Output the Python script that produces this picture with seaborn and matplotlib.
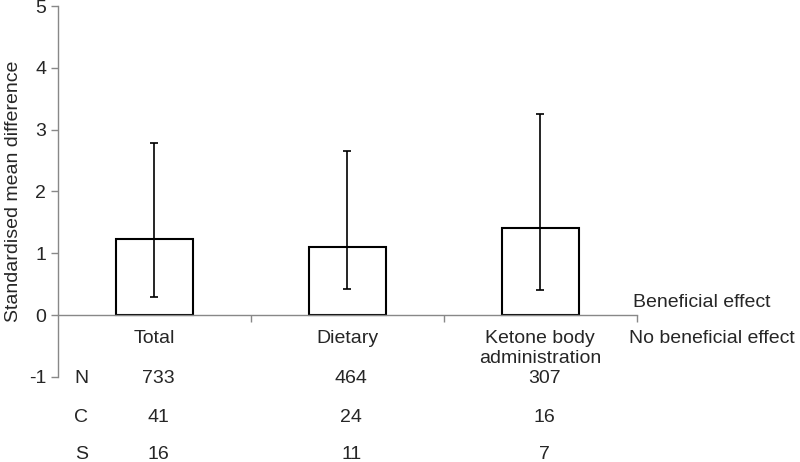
import matplotlib
matplotlib.use("Agg")
import matplotlib.pyplot as plt
import seaborn as sns
import pandas as pd

categories = ["Total", "Dietary", "Ketone body\nadministration"]
smd = [1.23, 1.11, 1.41]
ci_low = [0.30, 0.42, 0.40]
ci_high = [2.78, 2.66, 3.25]
row_names = ["N", "C", "S"]
n_values = [733, 464, 307]
c_values = [41, 24, 16]
s_values = [16, 11, 7]

sns.set_style("ticks")
plt.rcParams['font.family'] = ['Liberation Sans', 'DejaVu Sans']
plt.rcParams['axes.unicode_minus'] = False

df = pd.DataFrame({"group": categories, "smd": smd})

fig = plt.figure(figsize=(8, 4.62), dpi=100)
ax = fig.add_axes([0.0725, 0.184, 0.7235, 0.803])

sns.barplot(data=df, x="group", y="smd", ax=ax, color="white",
            edgecolor="black", linewidth=1.5, width=0.4, errorbar=None)

err = [[m - lo for m, lo in zip(smd, ci_low)], [hi - m for m, hi in zip(smd, ci_high)]]
ax.errorbar(range(len(categories)), smd, yerr=err, fmt="none", ecolor="black",
            elinewidth=1.2, capsize=3, capthick=1.2)

fs = 14
ax.set_xlim(-0.5, 2.5)
ax.set_ylim(-1, 5)
ax.set_yticks(range(-1, 6))
ax.tick_params(axis="y", labelsize=fs, color="#888888", length=5, width=1)
ax.set_ylabel("Standardised mean difference", fontsize=fs)
ax.yaxis.set_label_coords(-0.062, 0.5)
ax.set_xlabel("")

# x axis sits at zero, ticks between the groups
ax.spines["bottom"].set_position(("data", 0))
ax.spines["top"].set_visible(False)
ax.spines["right"].set_visible(False)
for s in ["bottom", "left"]:
    ax.spines[s].set_color("#888888")
    ax.spines[s].set_linewidth(1)
ax.tick_params(axis="x", which="major", length=0, labelsize=fs, pad=11)
ax.set_xticks([0.5, 1.5, 2.5], minor=True)
ax.tick_params(axis="x", which="minor", length=5, color="#888888", width=1)

ax.text(2.48, 0.21, "Beneficial effect", fontsize=fs, ha="left", va="center")
ax.text(2.46, -0.37, "No beneficial effect", fontsize=fs, ha="left", va="center", clip_on=False)

rows = [n_values, c_values, s_values]
row_y = [-1.02, -1.65, -2.25]
for name, vals, yy in zip(row_names, rows, row_y):
    ax.text(-0.38, yy, name, fontsize=fs, ha="center", va="center", clip_on=False)
    for i, v in enumerate(vals):
        ax.text(i + 0.02, yy, str(v), fontsize=fs, ha="center", va="center", clip_on=False)

fig.savefig("out.png", dpi=100)
